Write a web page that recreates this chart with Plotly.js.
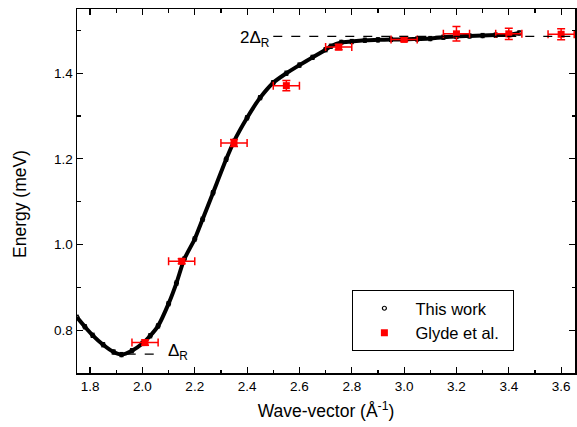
<!DOCTYPE html>
<html>
<head>
<meta charset="utf-8">
<script src="https://cdn.plot.ly/plotly-3.0.1.min.js"></script>
<style>html,body{margin:0;padding:0;background:#fff;}#chart{width:577px;height:427px;}</style>
</head>
<body>
<div id="chart"></div>
<script>
// "This work" dispersion curve (wave-vector in 1/Å, energy in meV)
const workQ = [1.75, 1.78, 1.81, 1.85, 1.89, 1.92, 1.96, 2.00, 2.03, 2.06, 2.10, 2.13, 2.16, 2.20, 2.23, 2.27, 2.32, 2.35, 2.40, 2.45, 2.50, 2.55, 2.60, 2.65, 2.70, 2.72, 2.76, 2.80, 2.85, 2.90, 2.95, 3.00, 3.05, 3.10, 3.15, 3.20, 3.25, 3.30, 3.35, 3.40, 3.44];
const workE = [0.830, 0.808, 0.788, 0.766, 0.749, 0.743, 0.752, 0.769, 0.787, 0.810, 0.862, 0.910, 0.966, 1.013, 1.059, 1.121, 1.199, 1.241, 1.296, 1.343, 1.378, 1.400, 1.419, 1.437, 1.455, 1.463, 1.472, 1.474, 1.477, 1.478, 1.479, 1.479, 1.480, 1.481, 1.484, 1.486, 1.487, 1.488, 1.489, 1.490, 1.494];
const workErr = 0.005;

// Glyde et al. data
const glydeQ = [2.01, 2.15, 2.35, 2.55, 2.75, 3.00, 3.20, 3.40, 3.60];
const glydeE = [0.771, 0.961, 1.237, 1.371, 1.461, 1.479, 1.492, 1.492, 1.491];
const glydeQerr = [0.05, 0.05, 0.05, 0.05, 0.05, 0.05, 0.05, 0.05, 0.05];
const glydeEerr = [0.006, 0.006, 0.008, 0.012, 0.006, 0.005, 0.017, 0.013, 0.013];

// reference levels
const deltaR = 0.744;
const twoDeltaR = 1.486;

const FONT = 'Liberation Sans, Arial, sans-serif';

const traces = [
  {x: workQ, y: workE, mode: 'lines', line: {color: '#000', width: 4, shape: 'spline', smoothing: 0.6}, showlegend: false, hoverinfo: 'skip'},
  {x: workQ, y: workE, mode: 'markers', name: 'This work',
   marker: {symbol: 'circle-open', size: 4, color: '#000', line: {width: 1.2, color: '#000'}},
   error_y: {type: 'constant', value: workErr, color: '#000', thickness: 1, width: 2}},
  {x: glydeQ, y: glydeE, mode: 'markers', name: 'Glyde et al.\u00a0\u00a0',
   marker: {symbol: 'square', size: 7, color: '#ff0000'},
   error_x: {type: 'data', array: glydeQerr, color: '#ff0000', thickness: 1.5, width: 4},
   error_y: {type: 'data', array: glydeEerr, color: '#ff0000', thickness: 1.5, width: 4}}
];

const axisCommon = {
  showline: true, linecolor: '#000', linewidth: 1.5, mirror: 'ticks',
  ticks: 'inside', ticklen: 6, tickwidth: 1.2, tickcolor: '#000',
  showgrid: false, zeroline: false,
  tickfont: {family: FONT, size: 13.5, color: '#000'}
};

const layout = {
  width: 577, height: 427,
  margin: {l: 77, r: 2, t: 9, b: 54},
  paper_bgcolor: '#fff', plot_bgcolor: '#fff',
  font: {family: FONT, color: '#000'},
  xaxis: Object.assign({}, axisCommon, {
    range: [1.75, 3.653], tick0: 1.8, dtick: 0.2, tickformat: '.1f',
    minor: {dtick: 0.1, ticks: 'inside', ticklen: 3.5, tickcolor: '#000', tickwidth: 1.2, showgrid: false},
    title: {text: 'Wave-vector (Å<sup>-1</sup>)', font: {family: FONT, size: 17.5, color: '#000'}, standoff: 12}
  }),
  yaxis: Object.assign({}, axisCommon, {
    range: [0.70, 1.55], tick0: 0.8, dtick: 0.2, tickformat: '.1f',
    minor: {dtick: 0.1, ticks: 'inside', ticklen: 3.5, tickcolor: '#000', tickwidth: 1.2, showgrid: false}
  }),
  legend: {
    x: 0.553, y: 0.228, xanchor: 'left', yanchor: 'top',
    bordercolor: '#000', borderwidth: 1, bgcolor: '#fff',
    font: {family: FONT, size: 16.5, color: '#000'}, itemwidth: 52, tracegroupgap: 0
  },
  shapes: [
    {type: 'line', xref: 'x', yref: 'y', x0: 2.50, x1: 3.653, y0: twoDeltaR, y1: twoDeltaR, line: {color: '#000', width: 1.2, dash: 'dash'}},
    {type: 'line', xref: 'x', yref: 'y', x0: 1.94, x1: 2.07, y0: deltaR, y1: deltaR, line: {color: '#000', width: 1.2, dash: 'dash'}}
  ],
  annotations: [
    {x: 20, y: 204, xref: 'paper', yref: 'paper', text: 'Energy (meV)', textangle: -90, showarrow: false,
     xanchor: 'center', yanchor: 'middle', font: {family: FONT, size: 17.5, color: '#000'}},
    {x: 2.495, y: twoDeltaR, xref: 'x', yref: 'y', xanchor: 'right', yanchor: 'middle', yshift: -3,
     text: '2Δ<sub>R</sub>', showarrow: false, font: {family: FONT, size: 17, color: '#000'}},
    {x: 2.09, y: deltaR, xref: 'x', yref: 'y', xanchor: 'left', yanchor: 'middle', yshift: 2,
     text: 'Δ<sub>R</sub>', showarrow: false, font: {family: FONT, size: 17, color: '#000'}}
  ]
};

// convert the y-title pixel position to paper coordinates of the plot area
const plotW = 577 - 77 - 2, plotH = 427 - 9 - 54;
layout.annotations[0].x = (20 - 77) / plotW;
layout.annotations[0].y = (427 - 54 - 204) / plotH;

Plotly.newPlot('chart', traces, layout, {displayModeBar: false, staticPlot: true});
</script>
</body>
</html>
